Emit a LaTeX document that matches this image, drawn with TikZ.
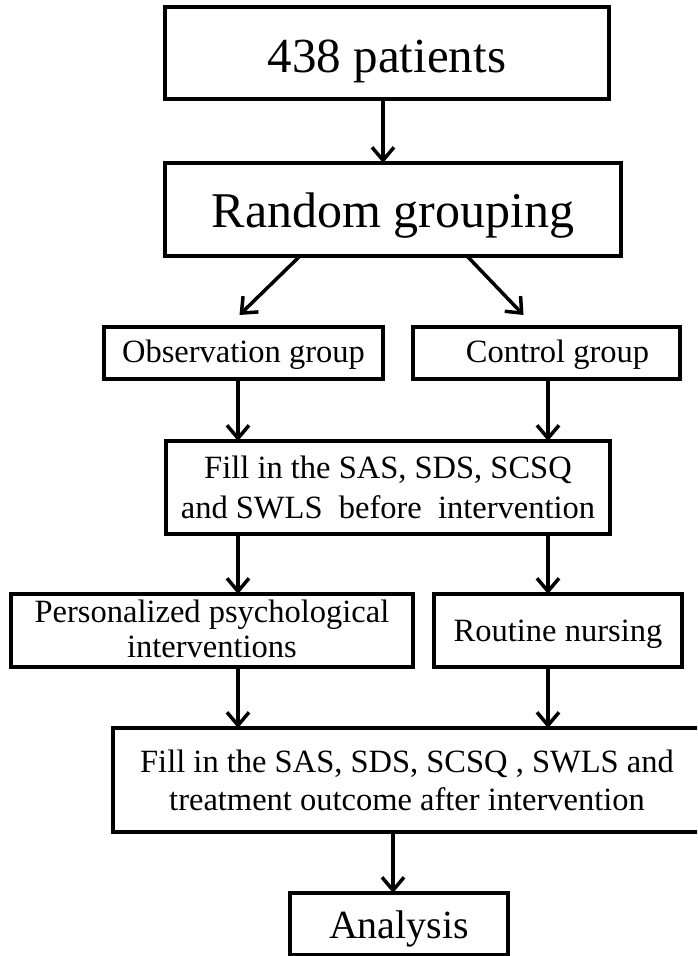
\documentclass[tikz,border=0pt]{standalone}
\usepackage{fontspec}
\setmainfont{Liberation Serif}
\usetikzlibrary{arrows.meta}
\newcommand\twol[2]{\vbox{\halign{\hfil##\hfil\cr#1\cr#2\cr}}}
\tikzset{
  box/.style={draw, line width=3.5pt, inner sep=0pt, outer sep=0pt, anchor=north west,
    font=\fontsize{32.5}{40}\selectfont},
  arr/.style={line width=3.5pt, -{Straight Barb[length=13pt,width=22pt]}},
}
\begin{document}
\begin{tikzpicture}[x=1pt,y=-1pt]
\path[use as bounding box, clip] (0,0) rectangle (697,956);
\fill[white] (0,0) rectangle (697,956);
% boxes
\node[box, minimum width=444pt, text height=65pt, text depth=27pt,
  font=\fontsize{49}{58}\selectfont] (p438) at (165,7) {438 patients};
\node[box, minimum width=456pt, text height=64pt, text depth=29pt,
  font=\fontsize{50}{60}\selectfont] (rand) at (165,163) {Random grouping};
\node[box, minimum width=279pt, text height=35pt, text depth=17pt] (obs) at (104,327)
  {Observation group\hspace{12pt}};
\node[box, minimum width=267pt, text height=35pt, text depth=17pt] (ctrl) at (413,327)
  {\hspace{22pt}Control group};
\node[box, minimum width=444pt, text height=77pt, text depth=16pt] (fill1) at (166,441)
  {\twol{Fill in the SAS, SDS, SCSQ}{and SWLS~~before~~intervention}};
\node[box, minimum width=402pt, text height=63pt, text depth=10pt,
  font=\fontsize{32.5}{35}\selectfont] (pers) at (11,594)
  {\twol{Personalized psychological}{interventions}};
\node[box, minimum width=248pt, text height=47pt, text depth=26pt] (rout) at (434,594)
  {Routine nursing};
\node[box, minimum width=588pt, text height=82pt, text depth=22pt,
  font=\fontsize{32.5}{38}\selectfont] (fill2) at (113,728)
  {\twol{Fill in the SAS, SDS, SCSQ , SWLS and}{treatment outcome after intervention}};
\node[box, minimum width=218pt, text height=45pt, text depth=17pt,
  font=\fontsize{40}{48}\selectfont] (anal) at (290,893) {Analysis};
% column guides
\coordinate (cm) at (383,0);
\coordinate (cl) at (238,0);
\coordinate (cr) at (548,0);
\coordinate (cb) at (393,0);
% connectors
\draw[arr] (p438.south -| cm) -- (rand.north -| cm);
\draw[arr] ([xshift=-93pt]rand.south) -- ([xshift=-4pt,yshift=12pt]obs.north);
\draw[arr] ([xshift=74pt]rand.south) -- ([xshift=-23pt,yshift=12pt]ctrl.north);
\draw[arr] (obs.south -| cl) -- (fill1.north -| cl);
\draw[arr] (ctrl.south -| cr) -- (fill1.north -| cr);
\draw[arr] (fill1.south -| cl) -- (pers.north -| cl);
\draw[arr] (fill1.south -| cr) -- (rout.north -| cr);
\draw[arr] (pers.south -| cl) -- (fill2.north -| cl);
\draw[arr] (rout.south -| cr) -- (fill2.north -| cr);
\draw[arr] (fill2.south -| cb) -- (anal.north -| cb);
\end{tikzpicture}
\end{document}
